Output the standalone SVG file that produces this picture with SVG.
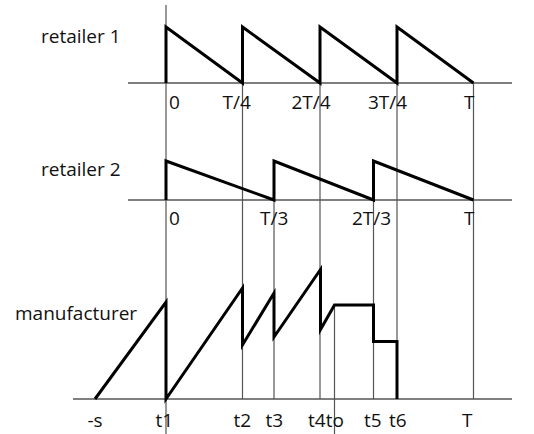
<svg xmlns="http://www.w3.org/2000/svg" width="534" height="434" viewBox="0 0 534 434">
<style>
.grid{stroke:#555;stroke-width:1.2;fill:none}
.axis{stroke:#555;stroke-width:1.3;fill:none}
.curve{stroke:#000;stroke-width:3;fill:none;stroke-linejoin:miter;stroke-miterlimit:10}
text{font-family:"Open Sans","Noto Sans","DejaVu Sans",sans-serif;font-size:19px;fill:#111}
</style>
<rect width="534" height="434" fill="#fff"/>
<g id="guides">
<line class="grid" x1="166" y1="5" x2="166" y2="434"/>
<line class="grid" x1="242.5" y1="83" x2="242.5" y2="399"/>
<line class="grid" x1="320" y1="83" x2="320" y2="399"/>
<line class="grid" x1="397" y1="83" x2="397" y2="399"/>
<line class="grid" x1="473.5" y1="83" x2="473.5" y2="399"/>
<line class="grid" x1="274" y1="200" x2="274" y2="399"/>
<line class="grid" x1="373.5" y1="200" x2="373.5" y2="399"/>
<line class="grid" x1="334.5" y1="305" x2="334.5" y2="434"/>
</g>
<g id="axes">
<line class="axis" x1="128" y1="83" x2="512" y2="83"/>
<line class="axis" x1="128" y1="200" x2="512" y2="200"/>
<line class="axis" x1="73" y1="399" x2="512" y2="399"/>
</g>
<g id="retailer1">
<path class="curve" d="M166,83 V27 L242.5,83 V27 L320,83 V27 L397,83 V27 L473.5,83"/>
<text x="41" y="43">retailer 1</text>
<text x="169" y="108.5">0</text>
<text x="222.5" y="108.5">T/4</text>
<text x="291.5" y="108.5">2T/4</text>
<text x="368" y="108.5">3T/4</text>
<text x="464" y="108.5">T</text>
</g>
<g id="retailer2">
<path class="curve" d="M166,200 V161 L274,200 V161 L373.5,200 V161 L473.5,200"/>
<text x="41" y="176">retailer 2</text>
<text x="169" y="225">0</text>
<text x="260" y="225">T/3</text>
<text x="352" y="225">2T/3</text>
<text x="464" y="225">T</text>
</g>
<g id="manufacturer">
<path class="curve" d="M95,399 L166,302 V399 L242.5,288 V345 L274,293 V337 L320.5,269.5 V329.5 L334.5,305 H373.5 V341.5 H397 V399"/>
<text x="15" y="320">manufacturer</text>
<text x="87.5" y="426.5">-s</text>
<text x="155.5" y="426.5">t1</text>
<text x="233.5" y="426.5">t2</text>
<text x="265.5" y="426.5">t3</text>
<text x="308" y="426.5">t4to</text>
<text x="364" y="426.5">t5</text>
<text x="389" y="426.5">t6</text>
<text x="462" y="426.5">T</text>
</g>
</svg>
